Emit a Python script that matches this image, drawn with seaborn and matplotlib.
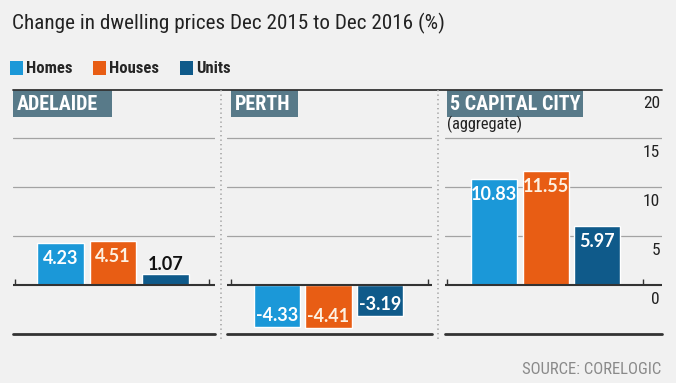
import numpy as np
import pandas as pd
import seaborn as sns
import matplotlib
matplotlib.use("Agg")
import matplotlib.pyplot as plt
from matplotlib import font_manager as fm
from matplotlib.patches import Rectangle, Patch
from matplotlib.lines import Line2D

# ---------------- data ----------------
title = "Change in dwelling prices Dec 2015 to Dec 2016 (%)"
series = ["Homes", "Houses", "Units"]
cities = ["ADELAIDE", "PERTH", "5 CAPITAL CITY"]
adelaide = [4.23, 4.51, 1.07]
perth = [-4.33, -4.41, -3.19]
capital = [10.83, 11.55, 5.97]
yticks = [0, 5, 10, 15, 20]
subnote = "(aggregate)"
source = "SOURCE: CORELOGIC"
colors = ["#1b98d8", "#e85d14", "#0f5a8a"]
label_colors = ["#ffffff", "#fdf1e2", "#ffffff"]

# ---------------- style ----------------
sns.set_theme(style="white")
BG = "#f1f1f1"
DARK = "#333333"


def pick_font(cands):
    entries = fm.fontManager.ttflist
    for name, stretch in cands:
        for f in entries:
            if f.name == name and (stretch is None or f.stretch == stretch):
                return name, (stretch or "normal")
    return "DejaVu Sans", "normal"


COND, CST = pick_font([("Roboto Condensed", None), ("Open Sans", "condensed"),
                       ("Noto Sans", "condensed"), ("Liberation Sans Narrow", None),
                       ("Open Sans", "semi-condensed"), ("Noto Sans", "semi-condensed"),
                       ("Lato", None)])
plt.rcParams["font.family"] = [COND, "DejaVu Sans"]

W, H = 676, 383
fig = plt.figure(figsize=(W / 100, H / 100), dpi=100, facecolor=BG)


def fx(px):
    return px / W


def fy(py):
    return 1 - py / H


Y_BOT, Y_TOP = 334.0, 88.5          # pixel rows of -5 and 20
panels = [  # px left, px right, xlim, tick fractions, title box px
    dict(x0=13.3, x1=215.0, xlim=(-0.91, 2.954), ticks=(0.008, 0.972), box=(13.3, 112.3)),
    dict(x0=227.3, x1=432.0, xlim=(-0.965, 3.01), ticks=(0.018, 0.979), box=(231.0, 298.3)),
    dict(x0=445.0, x1=662.0, xlim=(-0.957, 3.256), ticks=(0.011, 0.914), box=(446.7, 583.3)),
]
values = [adelaide, perth, capital]

axes = []
for p, vals, city in zip(panels, values, cities):
    ax = fig.add_axes([fx(p["x0"]), fy(Y_BOT), (p["x1"] - p["x0"]) / W, (Y_BOT - Y_TOP) / H])
    ax.set_facecolor("none")
    df = pd.DataFrame({"type": series, "value": vals})
    sns.barplot(data=df, x="type", y="value", hue="type", palette=colors, hue_order=series,
                order=series, width=0.9, saturation=1, legend=False, ax=ax, zorder=2)
    ax.set_xlim(*p["xlim"])
    ax.set_ylim(-5, 20)
    for s in ax.spines.values():
        s.set_visible(False)
    ax.set_xticks([])
    ax.set_yticks([])
    ax.set_xlabel("")
    ax.set_ylabel("")
    for g in yticks[1:-1]:
        ax.axhline(g, color="#a3a3a3", lw=0.9, zorder=0)
    ax.axhline(0, color=DARK, lw=1.5, zorder=3)
    ax.axhline(-5, color=DARK, lw=2.0, zorder=3, clip_on=False)
    tr = ax.get_yaxis_transform()
    for t in p["ticks"]:
        ax.plot([t, t], [0, 0.55], transform=tr, color=DARK, lw=1.0, zorder=3,
                solid_capstyle="butt")
    # value labels
    for ci, cont in enumerate(ax.containers):
        for bar in cont:
            v = bar.get_height()
            cx = bar.get_x() + bar.get_width() / 2
            if v >= 2:
                off, col = -15.5, label_colors[ci]
            elif v > 0:
                off, col = 10, "#111111"
            else:
                off, col = 11.5, label_colors[ci]
            ax.annotate(f"{v:.2f}", xy=(cx, v), xytext=(0, off), textcoords="offset pixels",
                        ha="center", va="center", fontsize=13, fontweight="bold",
                        color=col, zorder=5, family=["Lato", "DejaVu Sans"])
    # panel title box
    bx0, bx1 = p["box"]
    fig.add_artist(Rectangle((fx(bx0), fy(117.3)), (bx1 - bx0) / W, 27.3 / H,
                             transform=fig.transFigure, color="#587a89", lw=0))
    fig.text(fx(bx0 + 3.5), fy(104), city, ha="left", va="center", color="white",
             fontsize=14.5, fontweight="bold", stretch=CST)
    axes.append(ax)

# y tick labels on the right of last panel
axc = axes[-1]
for v in yticks:
    axc.annotate(str(v), xy=(1, v), xycoords=axc.get_yaxis_transform(), xytext=(-2, -15),
                 textcoords="offset pixels", ha="right", va="center", fontsize=12.5,
                 color="#222222", stretch=CST)

fig.text(fx(447.5), fy(124), subnote, ha="left", va="center", fontsize=11.8,
         color="#222222", stretch=CST)

# top line and separators
fig.add_artist(Line2D([fx(13.3), fx(662)], [fy(89.5)] * 2, color=DARK, lw=1.3))
for sx in (221.0, 438.3):
    fig.add_artist(Line2D([fx(sx)] * 2, [fy(90), fy(340)], color="#a6a6a6", lw=1.2,
                          ls=(0, (0.8, 1.9))))

# title
fig.text(fx(11.5), fy(23), title, ha="left", va="center", fontsize=15.2, color="#222222",
         stretch=CST)

# legend
handles = [Patch(facecolor=c, edgecolor="none", label=s) for c, s in zip(colors, series)]
fig.legend(handles=handles, loc="center left", bbox_to_anchor=(fx(3.5), fy(68.5)), ncol=3,
           frameon=False, handlelength=0.75, handleheight=0.9, handletextpad=0.2,
           columnspacing=1.25, borderaxespad=0,
           prop=dict(weight="bold", size=12, stretch=CST, family=[COND, "DejaVu Sans"]))

fig.text(fx(661), fy(369), source, ha="right", va="center", fontsize=12, color="#8a8a8a",
         stretch=CST)

fig.savefig("out.png", dpi=100, facecolor=BG)
